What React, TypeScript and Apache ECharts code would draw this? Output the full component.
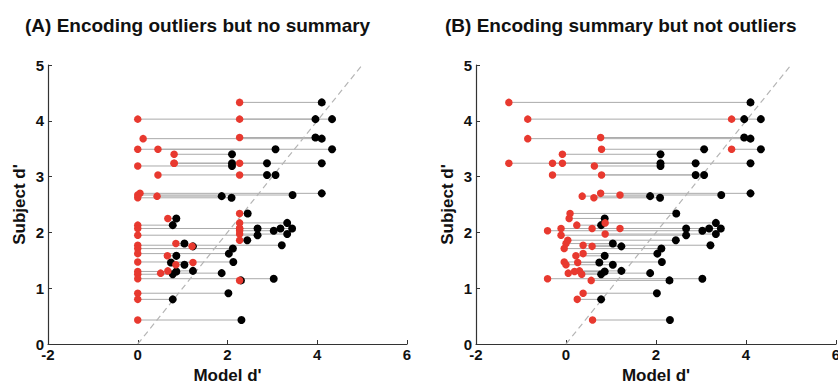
import React, { useEffect, useRef } from "react";
import * as echarts from "echarts";

// Subject d' (y) for each subject
const subjectD = [4.33, 4.03, 4.03, 3.70, 3.68, 3.49, 3.49, 3.40, 3.24, 3.24, 3.24, 3.19, 3.03, 3.03, 2.70, 2.67, 2.65, 2.62, 2.34, 2.25, 2.17, 2.13, 2.07, 2.07, 2.07, 2.03, 1.97, 1.95, 1.86, 1.80, 1.77, 1.75, 1.71, 1.62, 1.58, 1.47, 1.46, 1.42, 1.31, 1.27, 1.30, 1.25, 1.17, 1.14, 0.91, 0.80, 0.43];
// Full model d' (black points, shared by both panels)
const fullModel = [4.10, 3.96, 4.33, 3.96, 4.10, 4.33, 3.07, 2.10, 4.10, 2.88, 2.10, 2.10, 2.88, 3.07, 4.10, 3.45, 1.87, 2.09, 2.45, 0.86, 3.33, 0.78, 3.18, 3.44, 2.67, 3.03, 3.33, 2.67, 2.44, 1.04, 3.21, 1.23, 2.12, 2.03, 0.86, 2.13, 0.74, 1.04, 1.23, 1.87, 0.86, 0.78, 3.03, 2.30, 2.02, 0.78, 2.31];
// Panel A: outliers but no summary (red points)
const modelA = [2.27, 2.27, 0, 2.27, 0.12, 0, 0.45, 0.81, 0.81, 2.27, 0.81, 0, 0.45, 2.27, 0.05, 0, 0.43, 0, 2.27, 0.67, 2.27, 0, 2.27, 2.27, 0, 2.27, 2.27, 0, 2.27, 0.85, 0, 1.21, 0, 0, 0.66, 0, 1.23, 0.85, 0.67, 0.51, 0, 0, 0, 2.27, 0, 0, 0];
// Panel B: summary but not outliers (red points)
const modelB = [-1.27, 3.68, -0.85, 0.77, -0.85, 3.68, 0.79, -0.08, -1.27, -0.30, -0.08, 0.63, -0.30, 0.79, 0.77, 1.20, 0.36, 0.62, 0.09, 0.07, 0.87, 0.24, -0.11, 0.58, 1.20, -0.41, 0.87, -0.11, 0.04, 0.0, 0.38, 0.58, -0.04, 0.38, 0.22, -0.04, 0.26, 0.0, 0.30, 0.05, 0.19, 0.35, -0.41, 0.56, 0.38, 0.25, 0.59];

const xTicks = [-2, 0, 2, 4, 6];
const yTicks = [0, 1, 2, 3, 4, 5];
const titles = ["(A) Encoding outliers but no summary", "(B) Encoding summary but not outliers"];
const xName = "Model d'";
const yName = "Subject d'";
const diagonal = [[0, 0], [5, 5]];

const FONT = "Liberation Sans, Arial, sans-serif";

export default function App() {
  const ref = useRef<HTMLDivElement>(null);
  useEffect(() => {
    document.body.style.margin = "0";
    const chart = echarts.init(ref.current!, null, { renderer: "svg" });
    const panels = [modelA, modelB];
    const grids = [
      { left: 48, top: 65, width: 359, height: 279, outerBoundsMode: "none", containLabel: false },
      { left: 476, top: 65, width: 360, height: 279, outerBoundsMode: "none", containLabel: false },
    ];
    const axisCommonX = (i: number) => ({
      gridIndex: i,
      type: "value",
      min: xTicks[0],
      max: xTicks[xTicks.length - 1],
      interval: 2,
      name: xName,
      nameLocation: "middle",
      nameGap: 22,
      nameTextStyle: { fontFamily: FONT, fontSize: 17, fontWeight: "bold", color: "#111" },
      axisLine: { show: true, onZero: false, lineStyle: { color: "#333", width: 1.2 } },
      axisTick: { show: true, inside: true, length: 4, lineStyle: { color: "#333" } },
      axisLabel: { fontFamily: FONT, fontSize: 15, fontWeight: "bold", color: "#111", margin: 3 },
      splitLine: { show: false },
    });
    const axisCommonY = (i: number) => ({
      gridIndex: i,
      type: "value",
      min: yTicks[0],
      max: yTicks[yTicks.length - 1],
      interval: 1,
      name: yName,
      nameLocation: "middle",
      nameGap: 20,
      nameTextStyle: { fontFamily: FONT, fontSize: 17, fontWeight: "bold", color: "#111" },
      axisLine: { show: true, onZero: false, lineStyle: { color: "#333", width: 1.2 } },
      axisTick: { show: true, inside: true, length: 4, lineStyle: { color: "#333" } },
      axisLabel: { fontFamily: FONT, fontSize: 15, fontWeight: "bold", color: "#111", margin: 4 },
      splitLine: { show: false },
    });
    const series: any[] = [];
    panels.forEach((reds, i) => {
      series.push({
        type: "custom",
        xAxisIndex: i,
        yAxisIndex: i,
        data: subjectD.map((y, k) => [reds[k], fullModel[k], y]),
        encode: { x: [0, 1], y: 2 },
        renderItem: (params: any, api: any) => {
          const p1 = api.coord([api.value(0), api.value(2)]);
          const p2 = api.coord([api.value(1), api.value(2)]);
          return {
            type: "line",
            shape: { x1: p1[0], y1: p1[1], x2: p2[0], y2: p2[1] },
            style: { stroke: "#aaaaaa", lineWidth: 1 },
          };
        },
        z: 1,
      });
      series.push({
        type: "line",
        xAxisIndex: i,
        yAxisIndex: i,
        data: diagonal,
        showSymbol: false,
        symbol: "none",
        lineStyle: { color: "#b5b5b5", width: 1.2, type: [6, 4] },
        z: 2,
      });
      series.push({
        type: "scatter",
        xAxisIndex: i,
        yAxisIndex: i,
        data: subjectD.map((y, k) => [fullModel[k], y]),
        symbolSize: 8,
        itemStyle: { color: "#000000", opacity: 1 },
        z: 3,
      });
      series.push({
        type: "scatter",
        xAxisIndex: i,
        yAxisIndex: i,
        data: subjectD.map((y, k) => [reds[k], y]),
        symbolSize: 7.5,
        itemStyle: { color: "#e8392f", opacity: 1 },
        z: 4,
      });
    });
    chart.setOption({
      animation: false,
      backgroundColor: "#ffffff",
      title: [
        { text: titles[0], left: 20, top: 11, textStyle: { fontFamily: FONT, fontSize: 19, fontWeight: "bold", color: "#111" } },
        { text: titles[1], left: 440, top: 11, textStyle: { fontFamily: FONT, fontSize: 19, fontWeight: "bold", color: "#111" } },
      ],
      grid: grids,
      xAxis: [axisCommonX(0), axisCommonX(1)],
      yAxis: [axisCommonY(0), axisCommonY(1)],
      series,
    });
    return () => chart.dispose();
  }, []);
  return <div ref={ref} style={{ width: 838, height: 384 }} />;
}
